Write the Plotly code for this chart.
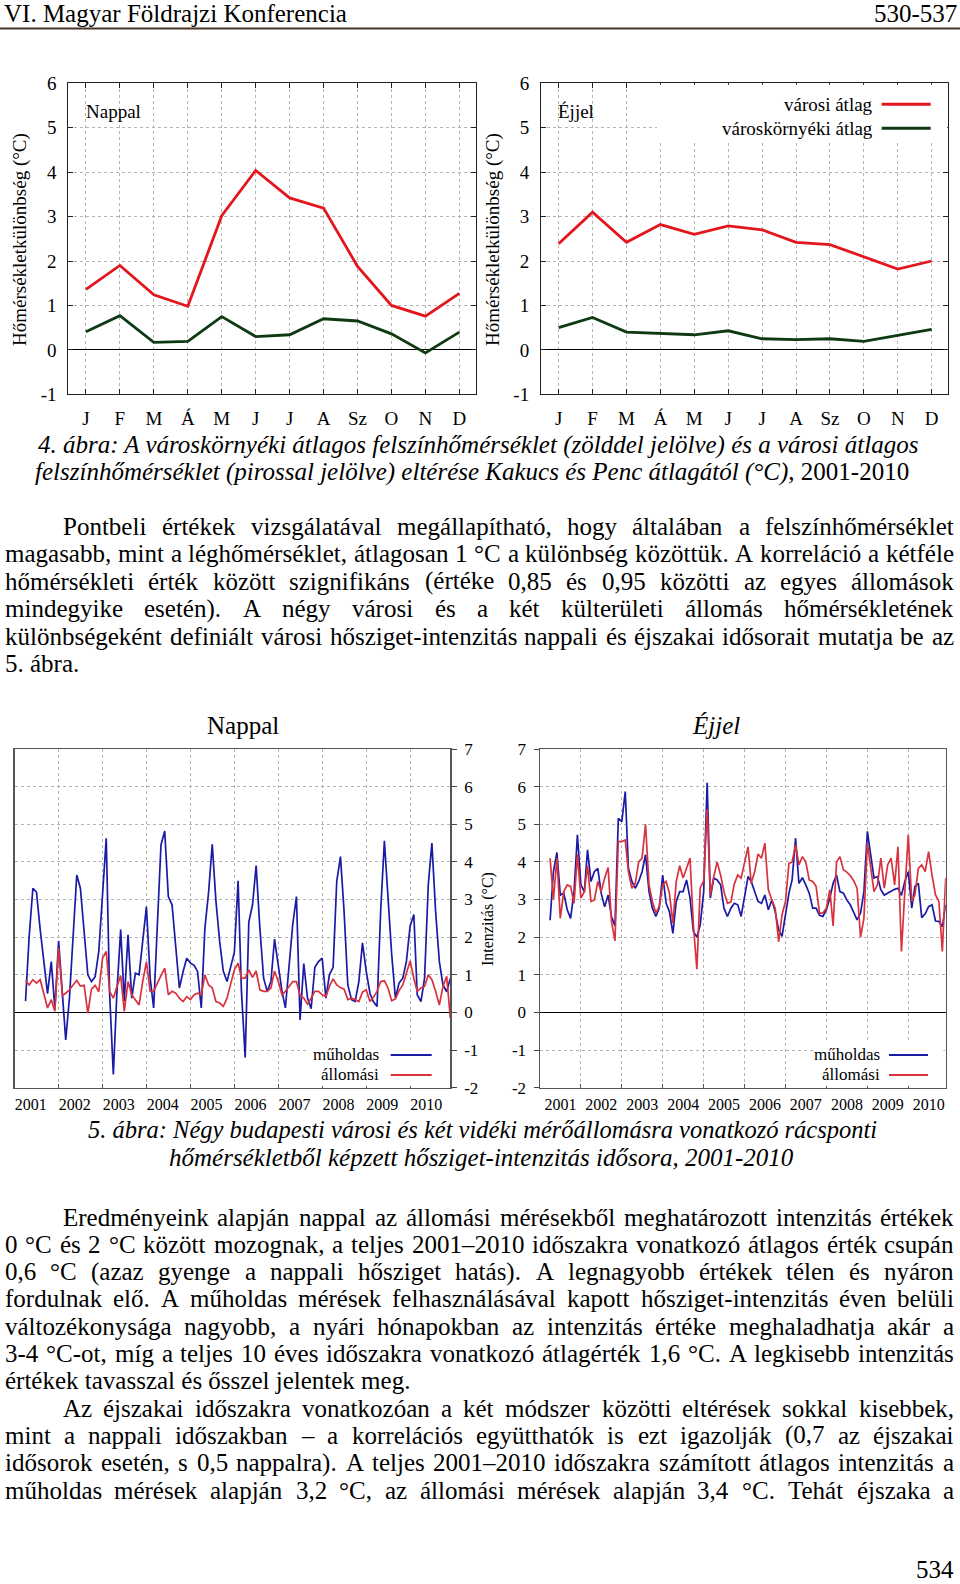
import plotly.graph_objects as go
import pandas as pd

# ---------------- data ----------------
MONTHS = ["J", "F", "M", "Á", "M", "J", "J", "A", "Sz", "O", "N", "D"]
NAPPAL_VAROSI = [1.36, 1.90, 1.24, 0.98, 3.02, 4.04, 3.42, 3.19, 1.88, 1.00, 0.76, 1.27]
NAPPAL_KORNYEKI = [0.41, 0.77, 0.17, 0.19, 0.75, 0.30, 0.34, 0.70, 0.65, 0.36, -0.07, 0.40]
EJJEL_VAROSI = [2.39, 3.10, 2.42, 2.82, 2.60, 2.79, 2.70, 2.42, 2.37, 2.10, 1.82, 2.00]
EJJEL_KORNYEKI = [0.50, 0.73, 0.40, 0.37, 0.34, 0.43, 0.25, 0.23, 0.25, 0.19, 0.32, 0.46]

YEARS = list(range(2001, 2011))
SERIES_START = "2001-04-01"

NAPPAL_MUHOLDAS = [
    0.30, 2.00, 3.30, 3.20, 2.20, 1.27, 0.50, 1.35, 0.10,
    1.90, 0.60, -0.73, 0.38, 1.90, 3.65, 3.30, 2.15, 1.00, 0.82, 0.95, 1.62,
    3.20, 4.63, 0.50, -1.65, 0.56, 2.20, 0.30, 2.06, 0.38, 1.04, 1.00, 1.97,
    2.81, 0.91, 0.12, 2.33, 4.45, 4.82, 3.08, 2.86, 1.62, 0.65, 1.09, 1.44,
    1.31, 1.25, 1.09, 0.12, 2.24, 3.20, 4.47, 2.95, 1.88, 1.09, 0.82, 1.22,
    1.60, 3.50, 0.56, -1.20, 2.40, 2.86, 3.90, 2.24, 0.91, 0.56, 0.82, 1.95,
    1.20, 0.56, 0.12, 1.27, 2.33, 3.08, -0.20, 1.30, 0.38, 0.10, 1.20, 1.35,
    1.44, 0.38, 1.00, 1.20, 3.48, 4.14, 2.68, 0.73, 0.34, 0.29, 0.82, 1.85,
    1.10, 0.51, 0.29, 0.16, 2.68, 4.56, 3.04, 1.53, 0.38, 0.78, 0.91, 1.35,
    2.30, 2.60, 0.47, 0.29, 0.91, 3.40, 4.50, 2.68, 1.35, 0.73, 0.55, 0.90,
]
NAPPAL_ALLOMASI = [
    0.85, 0.73, 0.87, 0.78, 0.87, 0.51, 0.12, 0.34, 0.03,
    1.71, 0.45, 0.51, 0.60, 0.73, 0.85, 0.70, 0.72, -0.02, 0.62, 0.72, 0.55,
    1.44, 1.62, 0.56, 0.38, 0.69, 0.98, 0.03, 0.82, 0.47, 0.34, 0.20, 0.82,
    1.34, 0.56, 0.56, 0.78, 1.00, 1.18, 0.47, 0.56, 0.51, 0.38, 0.29, 0.42,
    0.34, 0.47, 0.51, 0.47, 1.00, 0.73, 0.65, 0.29, 0.25, 0.16, 0.38, 0.78,
    1.13, 1.31, 0.91, 0.91, 1.13, 0.93, 1.10, 0.60, 0.56, 0.56, 0.65, 1.10,
    0.82, 0.47, 0.56, 0.69, 0.82, 0.82, 0.45, 0.38, 0.22, 0.38, 0.56, 0.56,
    0.47, 0.42, 0.69, 0.89, 0.73, 0.66, 0.62, 0.34, 0.38, 0.34, 0.29, 0.54,
    0.60, 0.29, 0.40, 0.56, 0.82, 0.84, 0.65, 0.31, 0.36, 0.58, 0.73, 1.04,
    1.37, 0.91, 0.56, 0.65, 0.69, 1.00, 0.87, 0.56, 0.20, 0.69, 0.96, -0.15,
]
EJJEL_MUHOLDAS = [
    2.45, 3.74, 4.25, 3.12, 3.17, 2.73, 2.50, 3.21, 4.72,
    3.39, 3.21, 4.32, 3.48, 3.74, 3.83, 3.17, 2.81, 3.12, 2.55, 2.30, 5.16,
    5.07, 5.87, 3.83, 3.48, 3.30, 3.48, 3.74, 4.19, 3.21, 2.77, 2.55, 2.77,
    3.65, 2.90, 2.68, 2.10, 2.95, 3.21, 3.21, 3.52, 3.04, 2.15, 2.00, 2.33,
    3.21, 6.10, 3.04, 3.57, 3.52, 3.39, 2.77, 2.55, 2.77, 2.90, 2.86, 2.55,
    3.04, 3.61, 3.48, 3.21, 2.95, 2.90, 3.12, 2.73, 2.99, 2.68, 2.19, 2.02,
    2.59, 3.17, 3.52, 4.63, 3.43, 3.58, 3.39, 3.17, 2.77, 2.77, 2.58, 2.55,
    2.73, 3.04, 3.43, 3.65, 3.21, 3.17, 2.99, 2.86, 2.66, 2.46, 2.64, 3.21,
    4.81, 4.10, 3.57, 3.61, 3.26, 3.12, 3.17, 3.21, 3.27, 3.30, 3.11, 3.48,
    3.74, 2.77, 3.35, 3.43, 2.52, 2.62, 2.81, 2.86, 2.43, 2.42, 2.28, 2.86,
]
EJJEL_ALLOMASI = [
    4.10, 3.00, 4.10, 2.50, 3.21, 3.39, 3.35, 2.90, 4.20,
    3.04, 3.21, 3.90, 2.95, 2.99, 3.48, 3.21, 3.57, 3.85, 2.42, 1.90, 4.54,
    4.54, 4.58, 3.74, 3.30, 3.43, 4.00, 4.10, 5.00, 3.39, 2.95, 2.64, 2.81,
    3.39, 3.48, 3.17, 2.37, 3.48, 3.90, 3.57, 3.83, 4.10, 2.33, 1.15, 3.30,
    3.50, 5.40, 3.12, 3.61, 4.00, 3.65, 3.21, 2.90, 2.94, 3.41, 3.65, 3.57,
    4.00, 4.40, 3.43, 3.74, 4.21, 4.10, 4.50, 3.26, 2.99, 2.77, 1.88, 2.59,
    2.95, 3.96, 4.00, 4.45, 3.92, 4.14, 4.00, 3.52, 3.48, 3.35, 2.64, 2.64,
    2.77, 3.26, 2.30, 4.00, 4.14, 3.79, 3.73, 3.64, 3.50, 3.30, 2.00, 2.50,
    4.50, 3.74, 3.21, 3.39, 4.10, 3.30, 3.92, 4.10, 3.39, 4.40, 1.62, 3.21,
    4.72, 2.95, 3.12, 3.83, 3.92, 3.74, 4.27, 3.65, 3.12, 2.95, 1.62, 3.57,
]

PARA1 = [
    "Pontbeli értékek vizsgálatával megállapítható, hogy általában a felszínhőmérséklet",
    "magasabb, mint a léghőmérséklet, átlagosan 1 °C a különbség közöttük. A korreláció a kétféle",
    "hőmérsékleti érték között szignifikáns (értéke 0,85 és 0,95 közötti az egyes állomások",
    "mindegyike esetén). A négy városi és a két külterületi állomás hőmérsékletének",
    "különbségeként definiált városi hősziget-intenzitás nappali és éjszakai idősorait mutatja be az",
    "5. ábra.",
]
PARA2 = [
    "Eredményeink alapján nappal az állomási mérésekből meghatározott intenzitás értékek",
    "0 °C és 2 °C között mozognak, a teljes 2001–2010 időszakra vonatkozó átlagos érték csupán",
    "0,6 °C (azaz gyenge a nappali hősziget hatás). A legnagyobb értékek télen és nyáron",
    "fordulnak elő. A műholdas mérések felhasználásával kapott hősziget-intenzitás éven belüli",
    "változékonysága nagyobb, a nyári hónapokban az intenzitás értéke meghaladhatja akár a",
    "3-4 °C-ot, míg a teljes 10 éves időszakra vonatkozó átlagérték 1,6 °C. A legkisebb intenzitás",
    "értékek tavasszal és ősszel jelentek meg.",
    "Az éjszakai időszakra vonatkozóan a két módszer közötti eltérések sokkal kisebbek,",
    "mint a nappali időszakban – a korrelációs együtthatók is ezt igazolják (0,7 az éjszakai",
    "idősorok esetén, s 0,5 nappalra). A teljes 2001–2010 időszakra számított átlagos intenzitás a",
    "műholdas mérések alapján 3,2 °C, az állomási mérések alapján 3,4 °C. Tehát éjszaka a",
]
# (indent, justify) flags for each line
PARA1_FMT = [(1, 1), (0, 1), (0, 1), (0, 1), (0, 1), (0, 0)]
PARA2_FMT = [(1, 1), (0, 1), (0, 1), (0, 1), (0, 1), (0, 1), (0, 0),
             (1, 1), (0, 1), (0, 1), (0, 1)]

CAP4 = ["<i>4. ábra: A városkörnyéki átlagos felszínhőmérséklet (zölddel jelölve) és a városi átlagos</i>",
        "<i>felszínhőmérséklet (pirossal jelölve) eltérése Kakucs és Penc átlagától (°C)</i>, 2001-2010"]
CAP5 = ["<i>5. ábra: Négy budapesti városi és két vidéki mérőállomásra vonatkozó rácsponti</i>",
        "<i>hőmérsékletből képzett hősziget-intenzitás idősora, 2001-2010</i>"]

# ---------------- helpers ----------------
PW, PH = 960, 1584
SERIF = "Liberation Serif"


def px(x):
    return x / PW


def py(y):
    return 1 - y / PH


def dom_x(a, b):
    return [a / PW, b / PW]


def dom_y(top, bottom):
    return [1 - bottom / PH, 1 - top / PH]


WID = {' ': .25, ',': .25, '.': .25, ':': .278, ';': .278, '(': .333, ')': .333,
       '-': .333, '–': .5, '°': .4}
for c, w in zip("abcdefghijklmnopqrstuvwxyz",
                [.444, .5, .444, .5, .444, .333, .5, .5, .278, .278, .5, .278, .778,
                 .5, .5, .5, .5, .333, .389, .278, .5, .5, .722, .5, .5, .444]):
    WID[c] = w
for c, w in zip("ABCDEFGHIJKLMNOPQRSTUVWXYZ",
                [.722, .667, .667, .722, .611, .556, .722, .722, .333, .389, .722, .611,
                 .889, .722, .722, .556, .722, .667, .556, .611, .722, .722, .944, .722,
                 .722, .611]):
    WID[c] = w
for c in "0123456789":
    WID[c] = .5
for c, base in zip("áéíóöőúüűÉÁ", "aeiooouuuEA"):
    WID[c] = WID[base]


def tw(s, size):
    return sum(WID.get(c, .5) for c in s) * size


annotations = []


def ann(text, x, y, size, xanchor="left", yanchor="middle", italic=False, angle=0, color="black"):
    annotations.append(dict(
        text=text, x=px(x), y=py(y), xref="paper", yref="paper", showarrow=False,
        xanchor=xanchor, yanchor=yanchor, textangle=angle, borderpad=0, borderwidth=0,
        font=dict(family=SERIF, size=size, color=color,
                  style="italic" if italic else "normal"),
    ))


BODY = 25
X0, X1, INDENT = 5, 954, 63


def body_line(text, y, indent, justify):
    x0 = INDENT if indent else X0
    if not justify:
        ann(text, x0, y, BODY)
        return
    words = text.split(" ")
    widths = [tw(w, BODY) for w in words]
    gap = (X1 - x0 - sum(widths)) / (len(words) - 1)
    x = x0
    for i, w in enumerate(words):
        if i == 0:
            ann(w, x, y, BODY, "left")
        elif i == len(words) - 1:
            ann(w, X1, y, BODY, "right")
        else:
            ann(w, x + widths[i] / 2, y, BODY, "center")
        x += widths[i] + gap


# ---------------- figure ----------------
fig = go.Figure()

RED4, GREEN4 = "#e3161d", "#0e3a12"
BLUE5, RED5 = "#1a1aa6", "#d8323e"

fig.add_trace(go.Scatter(x=list(range(12)), y=NAPPAL_VAROSI, mode="lines",
                         line=dict(color=RED4, width=2.8), xaxis="x", yaxis="y"))
fig.add_trace(go.Scatter(x=list(range(12)), y=NAPPAL_KORNYEKI, mode="lines",
                         line=dict(color=GREEN4, width=2.8), xaxis="x", yaxis="y"))
fig.add_trace(go.Scatter(x=list(range(12)), y=EJJEL_VAROSI, mode="lines",
                         line=dict(color=RED4, width=2.8), xaxis="x2", yaxis="y2"))
fig.add_trace(go.Scatter(x=list(range(12)), y=EJJEL_KORNYEKI, mode="lines",
                         line=dict(color=GREEN4, width=2.8), xaxis="x2", yaxis="y2"))

dates = pd.date_range(SERIES_START, periods=len(NAPPAL_MUHOLDAS), freq="MS")
fig.add_trace(go.Scatter(x=dates, y=NAPPAL_MUHOLDAS, mode="lines",
                         line=dict(color=BLUE5, width=1.7), xaxis="x3", yaxis="y3"))
fig.add_trace(go.Scatter(x=dates, y=NAPPAL_ALLOMASI, mode="lines",
                         line=dict(color=RED5, width=1.7), xaxis="x3", yaxis="y3"))
fig.add_trace(go.Scatter(x=dates, y=EJJEL_MUHOLDAS, mode="lines",
                         line=dict(color=BLUE5, width=1.7), xaxis="x4", yaxis="y4"))
fig.add_trace(go.Scatter(x=dates, y=EJJEL_ALLOMASI, mode="lines",
                         line=dict(color=RED5, width=1.7), xaxis="x4", yaxis="y4"))

GRID = "#b4b4b4"


def x4(domain, anchor):
    return dict(domain=domain, anchor=anchor, range=[-0.52, 11.49], tickmode="array",
                tickvals=list(range(12)), ticktext=MONTHS, ticks="inside", ticklen=5,
                tickcolor="#222", showline=True, linecolor="#222", linewidth=1,
                mirror="ticks", showgrid=True, gridcolor=GRID, griddash="dot", gridwidth=1,
                zeroline=False, ticklabelstandoff=7, automargin=False,
                tickfont=dict(family=SERIF, size=19, color="black"), fixedrange=True)


def y4(domain, anchor):
    return dict(domain=domain, anchor=anchor, range=[-1, 6], tickmode="array",
                tickvals=list(range(-1, 7)), ticktext=[str(v) for v in range(-1, 7)],
                ticks="inside", ticklen=5, tickcolor="#222",
                showline=True, linecolor="#222", linewidth=1, mirror="ticks",
                showgrid=True, gridcolor=GRID, griddash="dot", gridwidth=1,
                zeroline=True, zerolinecolor="black", zerolinewidth=1, automargin=False,
                ticklabelstandoff=7, tickfont=dict(family=SERIF, size=19, color="black"),
                fixedrange=True)


def x5(domain, anchor, label_day):
    return dict(domain=domain, anchor=anchor, type="date",
                range=["2001-01-01", "2010-12-01"], tickmode="array",
                tickvals=[f"{y}-{label_day}" for y in YEARS], ticktext=[str(y) for y in YEARS],
                ticks="", showgrid=False, showline=True, mirror=True, linecolor="#555",
                linewidth=1.5, zeroline=False, ticklabelstandoff=2, automargin=False,
                tickfont=dict(family=SERIF, size=16, color="black"),
                minor=dict(tickmode="array", tickvals=[f"{y}-01-01" for y in YEARS[1:]],
                           showgrid=True, gridcolor=GRID, griddash="dot", gridwidth=1,
                           ticks="inside", ticklen=4, tickcolor="#555"),
                fixedrange=True)


def y5(domain, anchor, side):
    return dict(domain=domain, anchor=anchor, side=side, range=[-2, 7], tickmode="array",
                tickvals=list(range(-2, 8)), ticktext=[str(v) for v in range(-2, 8)],
                ticks="outside", ticklen=5, tickcolor="#444",
                showline=True, mirror=True, linecolor="#555", linewidth=1.5,
                showgrid=True, gridcolor=GRID, griddash="dot", gridwidth=1,
                zeroline=True, zerolinecolor="black", zerolinewidth=1.5, automargin=False,
                ticklabelstandoff=4, tickfont=dict(family=SERIF, size=17, color="black"),
                fixedrange=True)


F4Y = dom_y(83.3, 394.3)
F5Y = dom_y(749, 1087.7)

layout = dict(
    width=PW, height=PH, margin=dict(l=0, r=0, t=0, b=0, pad=0, autoexpand=False),
    autosize=False,
    paper_bgcolor="white", plot_bgcolor="white", showlegend=False,
    xaxis=x4(dom_x(68.3, 476), "y"), yaxis=y4(F4Y, "x"),
    xaxis2=x4(dom_x(541, 948.3), "y2"), yaxis2=y4(F4Y, "x2"),
    xaxis3=x5(dom_x(14.7, 450.3), "y3", "05-15"), yaxis3=y5(F5Y, "x3", "right"),
    xaxis4=x5(dom_x(540, 945.7), "y4", "07-02"), yaxis4=y5(F5Y, "x4", "left"),
)

shapes = []
# header rule
shapes.append(dict(type="line", xref="paper", yref="paper", x0=0, x1=1,
                   y0=py(28.5), y1=py(28.5), line=dict(color="#4a3226", width=2)))

# white legend backgrounds (no data passes through these areas)
shapes.append(dict(type="rect", xref="x2", yref="y2", x0=2.9, x1=11.46,
                   y0=4.72, y1=5.97, fillcolor="white", line=dict(width=0), layer="above"))
shapes.append(dict(type="rect", xref="x3", yref="y3", x0="2007-08-20", x1="2010-11-20",
                   y0=-1.95, y1=-0.78, fillcolor="white", line=dict(width=0), layer="above"))
shapes.append(dict(type="rect", xref="x4", yref="y4", x0="2007-09-20", x1="2010-11-10",
                   y0=-1.95, y1=-0.78, fillcolor="white", line=dict(width=0), layer="above"))


def leg_line(x0, x1, y, color, width):
    shapes.append(dict(type="line", xref="paper", yref="paper", x0=px(x0), x1=px(x1),
                       y0=py(y), y1=py(y), line=dict(color=color, width=width)))


# figure 4 legend
ann("városi átlag", 873, 104.3, 19, "right")
ann("városkörnyéki átlag", 873, 128.3, 19, "right")
leg_line(881.7, 930.7, 104.3, RED4, 3)
leg_line(881.7, 930.7, 128.3, GREEN4, 3)
ann("Nappal", 86, 111.7, 19)
ann("Éjjel", 557.7, 111.7, 19)
ann("Hőmérsékletkülönbség (°C)", 20, 240, 19, "center", angle=-90)
ann("Hőmérsékletkülönbség (°C)", 493, 240, 19, "center", angle=-90)

# figure 5 labels & legends
ann("Nappal", 243, 726, 25, "center")
ann("Éjjel", 716, 726, 25, "center", italic=True)
ann("Intenzitás (°C)", 488, 919, 16, "center", angle=-90)
for xr, l0, l1 in [(379, 390.7, 431.7), (880, 889, 928)]:
    ann("műholdas", xr, 1054, 17, "right")
    ann("állomási", xr, 1074, 17, "right")
    leg_line(l0, l1, 1055, BLUE5, 2)
    leg_line(l0, l1, 1075, RED5, 2)

# header & footer
ann("VI. Magyar Földrajzi Konferencia", 4, 13, 25)
ann("530-537", 957, 13, 25, "right")
ann("534", 954, 1583, 25, "right", yanchor="bottom")

# captions
ann(CAP4[0], 478, 444.5, 25, "center")
ann(CAP4[1], 472, 472, 25, "center")
ann(CAP5[0], 482, 1129.5, 24.5, "center")
ann(CAP5[1], 481, 1157.5, 25, "center")

# body text
for i, (t, (ind, jus)) in enumerate(zip(PARA1, PARA1_FMT)):
    body_line(t, 526 + 27.5 * i, ind, jus)
for i, (t, (ind, jus)) in enumerate(zip(PARA2, PARA2_FMT)):
    body_line(t, 1217 + 27.3 * i, ind, jus)

layout["shapes"] = shapes
layout["annotations"] = annotations
fig.update_layout(**layout)
fig.write_html("out.html", config={"displayModeBar": False, "staticPlot": True},
               post_script="document.body.style.margin='0';document.body.style.padding='0';")
